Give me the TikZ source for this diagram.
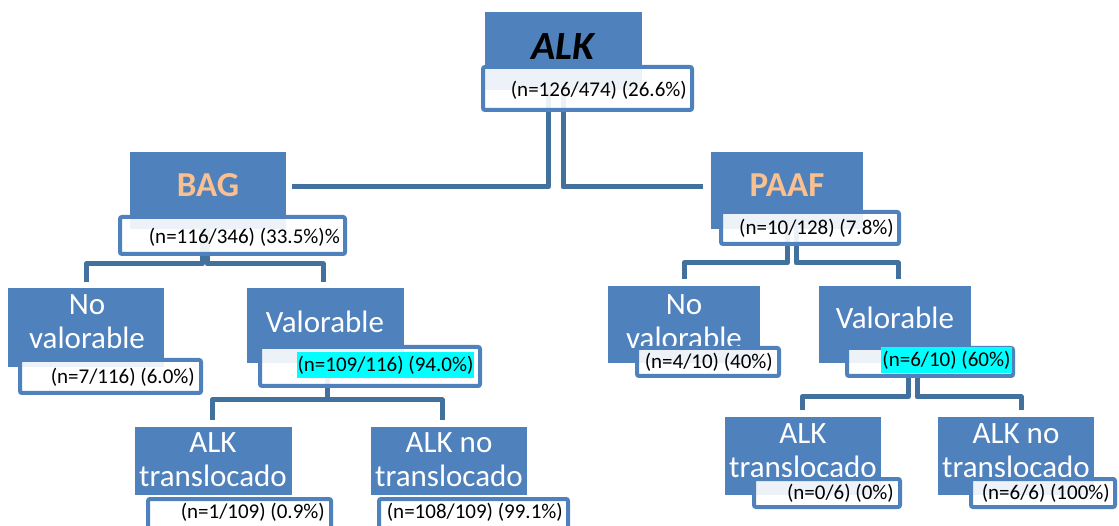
\documentclass[tikz,border=0pt]{standalone}
\usepackage{fontspec}
\setmainfont{Carlito}
\usetikzlibrary{calc}
\definecolor{tb}{HTML}{4F81BD}
\definecolor{ln}{HTML}{41719C}
\definecolor{org}{HTML}{FAC090}
\definecolor{hlc}{HTML}{00FFFF}
\begin{document}
\begin{tikzpicture}[x=1pt,y=-1pt,
 conn/.style={draw=ln, line width=5pt, line join=round},
 tbox/.style={fill=tb, inner sep=0, outer sep=0},
 lbox/.style={draw=tb, line width=4pt, fill=white, fill opacity=0.9, rounded corners=2pt, inner sep=0},
 ttext/.style={text=white, font=\fontsize{31}{34}\selectfont, align=center, inner sep=0},
 htext/.style={font=\bfseries\fontsize{35}{40}\selectfont, text=org, inner sep=0},
 ltext/.style={font=\fontsize{21}{24}\selectfont, inner sep=0, anchor=east, text=black},
 hl/.style={font=\fontsize{21}{24}\selectfont, fill=hlc, inner xsep=1pt, inner ysep=0pt, minimum height=26pt}]
\useasboundingbox (0,0) rectangle (1119,526);

% title boxes
\node[tbox, minimum width=157pt, minimum height=78pt] (alkT) at (563.5,51) {};
\node[tbox, minimum width=156pt, minimum height=77pt] (bagT) at (208,190.5) {};
\node[tbox, minimum width=152pt, minimum height=77pt] (paafT) at (787,190.5) {};
\node[tbox, minimum width=156pt, minimum height=79pt] (nvbT) at (86,327.5) {};
\node[tbox, minimum width=157pt, minimum height=75pt] (vbT) at (325.5,325.5) {};
\node[tbox, minimum width=157pt, minimum height=68pt] (atbT) at (213.5,461) {};
\node[tbox, minimum width=156pt, minimum height=68pt] (antbT) at (449,461) {};
\node[tbox, minimum width=152pt, minimum height=77pt] (nvpT) at (684,324.5) {};
\node[tbox, minimum width=152pt, minimum height=77pt] (vpT) at (895,324.5) {};
\node[tbox, minimum width=156pt, minimum height=78pt] (atpT) at (803,456) {};
\node[tbox, minimum width=156pt, minimum height=78pt] (antpT) at (1016,456) {};

% connector junctions
\coordinate (a1) at (548,187); \coordinate (a2) at (563,187);
\coordinate (b1) at (202,264); \coordinate (b2) at (207,264);
\coordinate (b3) at (86,264);  \coordinate (b4) at (323,264);
\coordinate (p1) at (787,263); \coordinate (p2) at (796,263);
\coordinate (p3) at (684,263); \coordinate (p4) at (898,263);
\coordinate (v1) at (327,400); \coordinate (v2) at (212,400); \coordinate (v3) at (442,400);
\coordinate (w1) at (908,397); \coordinate (w2) at (917,397);
\coordinate (w3) at (802,397); \coordinate (w4) at (1021,397);

% connectors
\draw[conn] (a1 |- alkT.south) -- (a1) -- ($(bagT.east |- a1)+(6,0)$);
\draw[conn] (a2 |- alkT.south) -- (a2) -- ($(paafT.west |- a2)+(-8,0)$);
\draw[conn] (b1 |- bagT.south) -- (b1) -- (b3) -- ($(b3 |- nvbT.north)+(0,-6)$);
\draw[conn] (b2 |- bagT.south) -- (b2) -- (b4) -- ($(b4 |- vbT.north)+(0,-6)$);
\draw[conn] (p1 |- paafT.south) -- (p1) -- (p3) -- ($(p3 |- nvpT.north)+(0,-7)$);
\draw[conn] (p2 |- paafT.south) -- (p2) -- (p4) -- ($(p4 |- vpT.north)+(0,-7)$);
\draw[conn] (v1 |- vbT.south) -- (v1);
\draw[conn] ($(v2 |- atbT.north)+(0,-7)$) -- (v2) -- (v3) -- ($(v3 |- antbT.north)+(0,-7)$);
\draw[conn] (w1 |- vpT.south) -- (w1) -- (w3) -- ($(w3 |- atpT.north)+(0,-7)$);
\draw[conn] (w2 |- vpT.south) -- (w2) -- (w4) -- ($(w4 |- antpT.north)+(0,-7)$);

% title texts
\node[font=\bfseries\itshape\fontsize{40}{44}\selectfont, inner sep=0] (alkX) at (563,47) {ALK};
\node[htext] (bagX) at (208,185) {BAG};
\node[htext] (paafX) at (787,185) {PAAF};
\node[ttext] (nvbX) at (87,322) {No\\valorable};
\node[ttext] (vbX) at (325,322) {Valorable};
\node[ttext] (atbX) at (213,460) {ALK\\translocado};
\node[ttext] (antbX) at (449,460) {ALK no\\translocado};
\node[ttext] (nvpX) at (684,322) {No\\valorable};
\node[ttext] (vpX) at (895,318) {Valorable};
\node[ttext] (atpX) at (803,451) {ALK\\translocado};
\node[ttext] (antpX) at (1016,451) {ALK no\\translocado};

% label boxes
\node[lbox, minimum width=209pt, minimum height=43pt] (alkL) at (587.5,88.5) {};
\node[lbox, minimum width=225pt, minimum height=37pt] (bagL) at (232.5,235.5) {};
\node[lbox, minimum width=178pt, minimum height=32pt] (paafL) at (810,228) {};
\node[lbox, minimum width=181pt, minimum height=33pt] (nvbL) at (110.5,376.5) {};
\node[lbox, minimum width=220pt, minimum height=39pt] (vbL) at (370,366.5) {};
\node[lbox, minimum width=183pt, minimum height=39pt] (atbL) at (239.5,518.5) {};
\node[lbox, minimum width=189pt, minimum height=39pt] (antbL) at (473.5,518.5) {};
\node[lbox, minimum width=142pt, minimum height=28pt] (nvpL) at (708,362) {};
\node[lbox, minimum width=166pt, minimum height=28pt] (vpL) at (930,362) {};
\node[lbox, minimum width=146pt, minimum height=28pt] (atpL) at (827,493) {};
\node[lbox, minimum width=144pt, minimum height=28pt] (antpL) at (1043,493) {};

% label texts
\node[ltext] (alkN) at (687,90) {(n=126/474) (26.6\%)};
\node[ltext] (bagN) at (340,237) {(n=116/346) (33.5\%)\%};
\node[ltext] (paafN) at (894,228) {(n=10/128) (7.8\%)};
\node[ltext] (nvbN) at (195,377) {(n=7/116) (6.0\%)};
\node[hl] (vbN) at (385.5,365) {(n=109/116) (94.0\%)};
\node[ltext] (atbN) at (325,512) {(n=1/109) (0.9\%)};
\node[ltext] (antbN) at (563,512) {(n=108/109) (99.1\%)};
\node[ltext] (nvpN) at (773,362) {(n=4/10) (40\%)};
\node[hl] (vpN) at (946.5,360) {(n=6/10) (60\%)};
\node[ltext] (atpN) at (894,493) {(n=0/6) (0\%)};
\node[ltext] (antpN) at (1110,493) {(n=6/6) (100\%)};
\end{tikzpicture}
\end{document}
